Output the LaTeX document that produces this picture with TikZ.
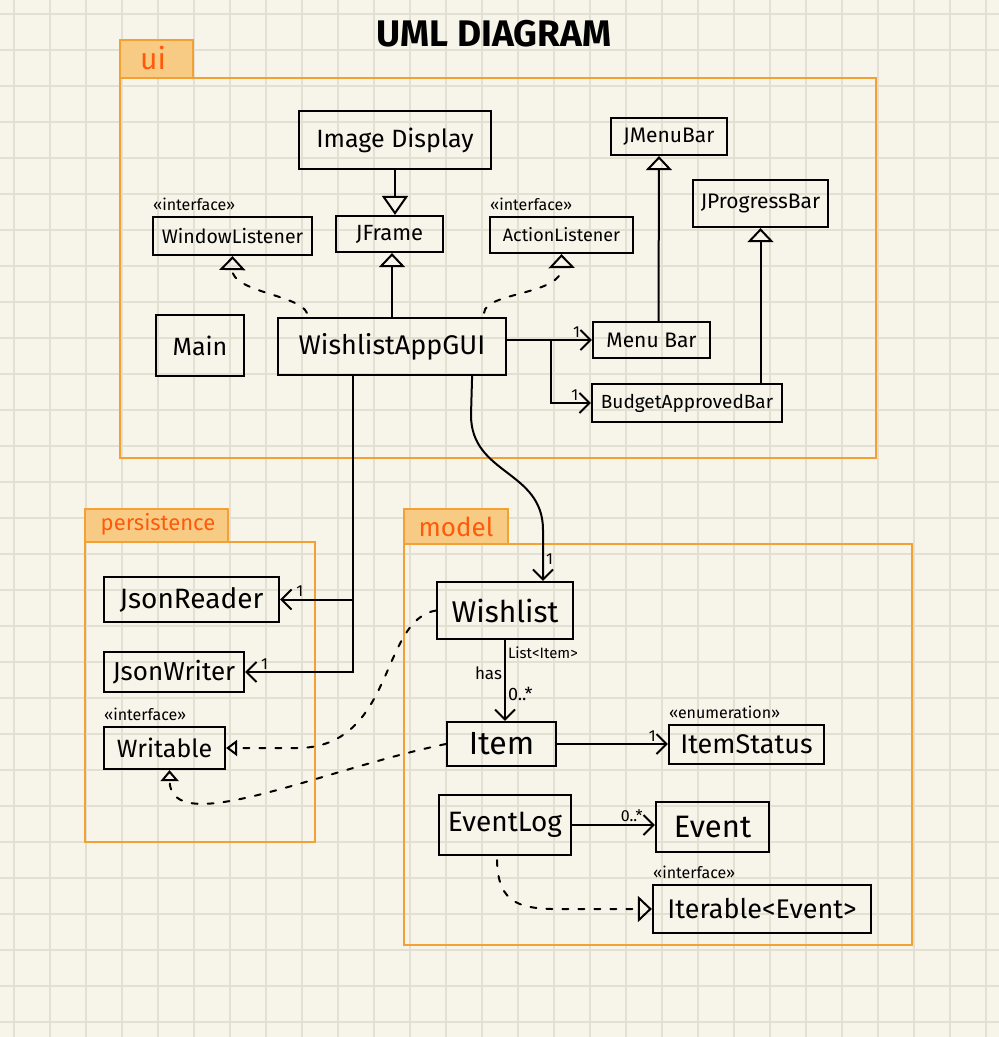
\documentclass[tikz,border=0pt]{standalone}
\usepackage{fontspec}
\setmainfont{Fira Sans}
\usetikzlibrary{arrows.meta,calc}

\definecolor{paper}{HTML}{F7F5EA}
\definecolor{gridline}{HTML}{E2DFD3}
\definecolor{pkgline}{HTML}{F5A033}
\definecolor{pkgtab}{HTML}{F8CB85}
\definecolor{pkgtext}{HTML}{FF5A0A}

\newcommand{\fsz}[1]{\fontsize{#1}{#1}\selectfont}

\tikzset{
	cls/.style={draw, line width=2.2pt, inner sep=0pt, font=\fsz{24}},
	stereo/.style={anchor=south west, inner sep=1pt, font=\fsz{16}},
	mult/.style={font=\fsz{16}, inner sep=2pt},
	assoc/.style={line width=2pt, -{Straight Barb[length=10pt,width=20pt,line width=2pt]}},
	inherit/.style={line width=2pt, -{Triangle[open,length=14pt,width=26pt,line width=2pt]}},
	realize/.style={inherit, dash pattern=on 6pt off 10pt, line cap=round},
	pkg/.style={draw=pkgline, line width=2pt},
	pkgname/.style={text=pkgtext},
}

\begin{document}
\begin{tikzpicture}[x=1pt, y=-1pt]
	
	\useasboundingbox (0,0) rectangle (999,1037);
	
	% paper and grid
	\fill[paper] (0,0) rectangle (999,1037);
	\foreach \gx in {14,50,...,986} \draw[gridline, line width=1.5pt] (\gx,0) -- (\gx,1037);
	\foreach \gy in {14,50,...,1022} \draw[gridline, line width=1.5pt] (0,\gy) -- (999,\gy);
	
	\node[font=\fsz{37}\bfseries] (title) at (494,34) {UML DIAGRAM};
	
	% packages
	\draw[pkg] (120,78) rectangle (876,458);
	\draw[pkg, fill=pkgtab] (120,40) rectangle (193,78);
	\node[pkgname, font=\fsz{30}] (uilbl) at (153,58) {ui};
	
	\draw[pkg] (85,542) rectangle (315,842);
	\draw[pkg, fill=pkgtab] (85,509) rectangle (228,542);
	\node[pkgname, font=\fsz{22}] (perslbl) at (158,524) {persistence};
	
	\draw[pkg] (404,544) rectangle (912,945);
	\draw[pkg, fill=pkgtab] (404,509) rectangle (508,544);
	\node[pkgname, font=\fsz{26}] (modellbl) at (456,527) {model};
	
	% ui classes
	\node[cls, minimum width=192pt, minimum height=58pt, font=\fsz{25}] (imgdisp) at (395,140) {Image Display};
	\node[cls, minimum width=107pt, minimum height=36pt, font=\fsz{22}] (jframe) at (389.5,234) {JFrame};
	\node[cls, minimum width=159pt, minimum height=38pt, font=\fsz{19.5}] (winlis) at (232.5,236) {WindowListener};
	\node[cls, minimum width=143pt, minimum height=36pt, font=\fsz{18}] (actlis) at (561.5,235) {ActionListener};
	\node[cls, minimum width=116pt, minimum height=37pt, font=\fsz{21}] (jmenubar) at (669,136.5) {JMenuBar};
	\node[cls, minimum width=135pt, minimum height=47pt, font=\fsz{21}] (jprogress) at (760.5,203.5) {JProgressBar};
	\node[cls, minimum width=88pt, minimum height=61pt, font=\fsz{25}] (mainc) at (200,345.5) {Main};
	\node[cls, minimum width=228pt, minimum height=57pt, font=\fsz{27}] (gui) at (392,346.5) {WishlistAppGUI};
	\node[cls, minimum width=117pt, minimum height=36pt, font=\fsz{21}] (menubar) at (651.5,340) {Menu Bar};
	\node[cls, minimum width=190pt, minimum height=38pt, font=\fsz{19}] (budget) at (687,403) {BudgetApprovedBar};
	
	\node[stereo] (winlisst) at ([yshift=4pt]winlis.north west) {«interface»};
	\node[stereo] (actlisst) at ([yshift=4pt]actlis.north west) {«interface»};
	
	% persistence classes
	\node[cls, minimum width=175pt, minimum height=45pt, font=\fsz{28}] (jsonreader) at (191.5,599.5) {JsonReader};
	\node[cls, minimum width=140pt, minimum height=40pt, font=\fsz{26}] (jsonwriter) at (174,672) {JsonWriter};
	\node[cls, minimum width=121pt, minimum height=42pt, font=\fsz{25}] (writable) at (164.5,748) {Writable};
	\node[stereo] (writablest) at ([yshift=4pt]writable.north west) {«interface»};
	
	% model classes
	\node[cls, minimum width=136pt, minimum height=57pt, font=\fsz{30}] (wishlist) at (505,610.5) {Wishlist};
	\node[cls, minimum width=109pt, minimum height=44pt, font=\fsz{32}] (item) at (501.5,744) {Item};
	\node[cls, minimum width=155pt, minimum height=39pt, font=\fsz{27}] (itemstatus) at (746.5,744.5) {ItemStatus};
	\node[cls, minimum width=132pt, minimum height=60pt, font=\fsz{28}] (eventlog) at (505,825) {EventLog};
	\node[cls, minimum width=113pt, minimum height=50pt, font=\fsz{31}] (event) at (712.5,827) {Event};
	\node[cls, minimum width=218pt, minimum height=48pt, font=\fsz{27}] (iterable) at (762,909) {Iterable<Event>};
	\node[stereo] (itemstatusst) at ([yshift=4pt]itemstatus.north west) {«enumeration»};
	\node[stereo] (iterablest) at ([yshift=4pt]iterable.north west) {«interface»};
	
	% generalisation
	\draw[inherit, -{Triangle[open,length=19pt,width=26pt,line width=2pt]}] (imgdisp.south) -- (imgdisp.south |- jframe.north);
	\draw[inherit] (gui.north) -- (gui.north |- jframe.south);
	\draw[inherit] ($(menubar.north)+(7,0)$) -- ($(jmenubar.south)+(-10,0)$);
	\draw[inherit] (budget.north -| jprogress.south) -- (jprogress.south);
	
	% realization
	\draw[realize] ($(gui.north west)+(30,-4)$) .. controls (300,295) and (232,292) .. (winlis.south);
	\draw[realize] ($(gui.north east)+(-23,-4)$) .. controls (485,292) and (562,295) .. (actlis.south);
	\draw[realize, -{Triangle[open,length=11pt,width=16pt,line width=2pt]}] (wishlist.west) .. controls (380,620) and (395,745) .. (300,748) -- (writable.east);
	\draw[realize, -{Triangle[open,length=11pt,width=18pt,line width=2pt]}] (item.west) .. controls (320,770) and (170,840) .. ($(writable.south)+(5,0)$);
	\draw[realize] ($(eventlog.south)+(-8,4)$) .. controls (498,905) and (520,910) .. (570,909) -- (iterable.west);
	
	% associations
	\draw[assoc] (gui.east |- menubar.west) -- (menubar.west) node[mult, pos=0.82, above] {1};
	\coordinate (split) at (551,340);
	\draw[assoc] (split) |- (budget.west) node[mult, pos=0.8, above] {1};
	\draw[assoc] ($(gui.south)+(-39,0)$) |- (jsonreader.east) node[mult, pos=0.865, above] {1};
	\draw[assoc] ($(gui.south)+(-39,0)$) |- (jsonwriter.east) node[mult, pos=0.91, above] {1};
	\draw[assoc] ($(gui.south east)+(-35,0)$) -- (471,415) .. controls (471,475) and (543,470) .. (543,530) -- ($(wishlist.north)+(38,0)$) node[mult, pos=0.58, right] {1};
	\draw[assoc] (wishlist.south) -- (wishlist.south |- item.north)
		node[mult, pos=0.16, right, font=\fsz{15}] {List<Item>}
		node[mult, pos=0.41, left, font=\fsz{17}] {has}
		node[mult, pos=0.67, right, font=\fsz{18}] {0..*};
	\draw[assoc] (item.east) -- (item.east -| itemstatus.west) node[mult, pos=0.86, above] {1};
	\draw[assoc] (eventlog.east) -- (eventlog.east -| event.west) node[mult, pos=0.72, above] {0..*};
	
\end{tikzpicture}
\end{document}
